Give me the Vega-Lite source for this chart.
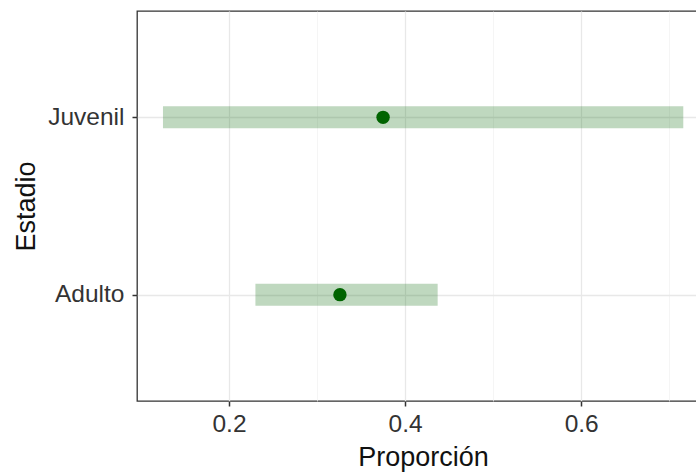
{
  "$schema": "https://vega.github.io/schema/vega-lite/v6.json",
  "autosize": "none",
  "padding": {"left": 137, "top": 11, "right": 0, "bottom": 74},
  "width": 572,
  "height": 390,
  "background": "white",
  "config": {
    "font": "Liberation Sans",
    "view": {"stroke": "#333333", "strokeWidth": 1.3},
    "axis": {
      "domain": false,
      "labelFont": "Liberation Sans",
      "titleFont": "Liberation Sans",
      "labelFontSize": 24.5,
      "titleFontSize": 27,
      "titleFontWeight": "normal",
      "labelColor": "#333333",
      "titleColor": "#111111",
      "tickColor": "#333333",
      "tickSize": 5,
      "tickWidth": 1.5,
      "gridColor": "#e8e8e8",
      "gridWidth": 1.3
    }
  },
  "data": {
    "values": [
      {"Estadio": "Juvenil", "lo": 0.125, "hi": 0.716, "p": 0.375},
      {"Estadio": "Adulto", "lo": 0.23, "hi": 0.437, "p": 0.326}
    ]
  },
  "layer": [
    {
      "mark": {"type": "rule", "color": "darkgreen", "opacity": 0.25, "strokeWidth": 22, "strokeCap": "butt"},
      "encoding": {
        "x": {
          "field": "lo",
          "type": "quantitative",
          "title": "Proporción",
          "scale": {"domain": [0.0955, 0.7452], "nice": false, "zero": false},
          "axis": {
            "values": [0.2, 0.3, 0.4, 0.5, 0.6, 0.7],
            "labelExpr": "round(datum.value*10) % 2 == 0 ? format(datum.value, '.1f') : ''",
            "tickOpacity": {"condition": {"test": "round(datum.value*10) % 2 == 1", "value": 0}, "value": 1},
            "gridWidth": {"condition": {"test": "round(datum.value*10) % 2 == 1", "value": 0.7}, "value": 1.3},
            "gridColor": {"condition": {"test": "round(datum.value*10) % 2 == 1", "value": "#f0f0f0"}, "value": "#e8e8e8"},
            "labelPadding": 6,
            "titlePadding": 9
          }
        },
        "x2": {"field": "hi"},
        "y": {
          "field": "Estadio",
          "type": "nominal",
          "title": "Estadio",
          "sort": ["Juvenil", "Adulto"],
          "scale": {"type": "point", "padding": 0.6},
          "axis": {"grid": true, "labelPadding": 8, "titlePadding": 7}
        }
      }
    },
    {
      "mark": {"type": "circle", "color": "darkgreen", "opacity": 1, "size": 180},
      "encoding": {
        "x": {"field": "p", "type": "quantitative"},
        "y": {"field": "Estadio", "type": "nominal", "sort": ["Juvenil", "Adulto"]}
      }
    }
  ]
}
